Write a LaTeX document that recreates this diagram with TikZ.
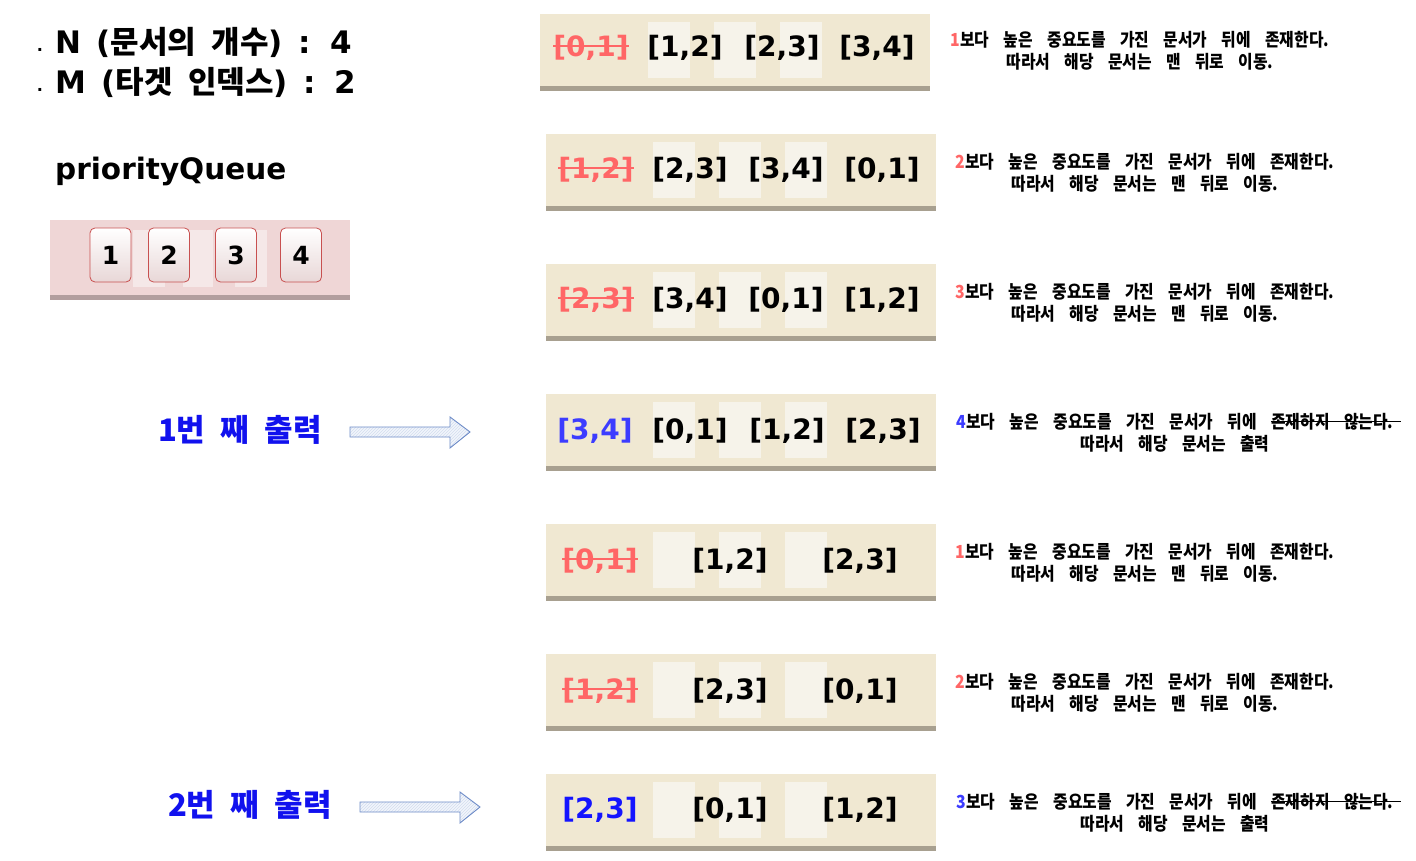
\documentclass[tikz,border=0pt]{standalone}
\usepackage{fontspec}
\setmainfont{DejaVu Sans}
\newfontfamily\kr{Noto Sans CJK KR}
\newfontfamily\krn{Noto Sans CJK KR}[FakeStretch=0.88]
\newfontfamily\lat{DejaVu Sans}
\usetikzlibrary{patterns}
\definecolor{beige}{RGB}{240,232,210}
\definecolor{innerc}{RGB}{246,243,234}
\definecolor{shadowc}{RGB}{168,160,144}
\definecolor{pinkc}{RGB}{239,214,214}
\definecolor{pinkin}{RGB}{245,232,232}
\definecolor{pinkshadow}{RGB}{178,158,158}
\definecolor{cardline}{RGB}{200,80,80}
\definecolor{cardbot}{RGB}{232,215,215}
\definecolor{redc}{RGB}{255,102,102}
\definecolor{bluelab}{RGB}{17,17,238}
\definecolor{bluea}{RGB}{60,60,255}
\definecolor{blueb}{RGB}{20,20,255}
\definecolor{arrline}{RGB}{110,140,200}
\definecolor{arrfill}{RGB}{242,245,252}
\newcommand\strk[2]{\setbox0\hbox{#2}\rlap{\color{#1}\raisebox{0.33em}{\rule{\wd0}{0.08em}}}\box0}
\newcommand\strkk[1]{\setbox0\hbox{#1}\rlap{\raisebox{0.36em}{\rule{\dimexpr\wd0+0.4em\relax}{0.07em}}}\box0}
\newcommand\rowbg[3]{\fill[beige] (#1,#3-36) rectangle (#2,#3+36);
  \fill[shadowc] (#1,#3+36) rectangle (#2,#3+41);}
\newcommand\innerbox[2]{\fill[innerc] (#1,#2-28) rectangle ++(42,56);}
\newcommand\fpair{\lat\bfseries\fontsize{28}{30}\selectfont}
\newcommand\fdesc{\krn\bfseries\fontsize{18}{22}\selectfont\spaceskip 0.8em\relax}
\newcommand\fbig{\lat\bfseries\fontsize{31}{34}\selectfont\spaceskip 0.5em\relax}
\newcommand\flab{\kr\bfseries\fontsize{31}{34}\selectfont\spaceskip 0.5em\relax}
\newcommand\fcard{\lat\bfseries\fontsize{25}{28}\selectfont}
\newcommand\fpq{\lat\bfseries\fontsize{29.5}{32}\selectfont}
\newcommand\fdot{\lat\bfseries\fontsize{16}{16}\selectfont}
\begin{document}
\begin{tikzpicture}[x=1pt,y=-1pt,
  pair/.style={font=\fpair, inner sep=0},
  desc/.style={font=\fdesc, align=center, inner sep=0},
  big/.style={font=\fbig, inner sep=0, anchor=base west},
  lab/.style={font=\flab, inner sep=0, text=bluelab},
  card/.style={draw=cardline, line width=0.8pt, rounded corners=5pt, top color=white, bottom color=cardbot,
     minimum width=41pt, minimum height=54pt, inner sep=0, font=\fcard},
  barrow/.style={draw=arrline, line width=0.9pt, preaction={fill=arrfill}, pattern=north east lines, pattern color=arrline!30},
]
\useasboundingbox (0,0) rectangle (1416,861);
\fill[white] (0,0) rectangle (1416,861);

% left info
\node[inner sep=0, font=\fdot] (dot1) at (40,50) {.};
\node[big] (nline) at (55,54) {N ({\kr 문서의 개수}) : 4};
\node[inner sep=0, font=\fdot] (dot2) at (40,90) {.};
\node[big] (mline) at (55,94) {M ({\kr 타겟 인덱스}) : 2};
\node[inner sep=0, anchor=base west, font=\fpq] (pq) at (55,180) {priorityQueue};

% priority queue box
\fill[pinkc] (50,220) rectangle (350,295);
\fill[pinkshadow] (50,295) rectangle (350,300);
\fill[pinkin] (133,230) rectangle (165,287);
\fill[pinkin] (183,230) rectangle (213,287);
\fill[pinkin] (235,230) rectangle (267,287);
\node[card] (q1) at (110.5,255) {1};
\node[card] (q2) at (169,255) {2};
\node[card] (q3) at (236,255) {3};
\node[card] (q4) at (301,255) {4};

% rows
\rowbg{540}{930}{50}
\innerbox{648}{50}\innerbox{714}{50}\innerbox{780}{50}
\foreach \c in {170,300,430,560,690,810}{
  \rowbg{546}{936}{\c}
  \innerbox{653}{\c}\innerbox{719}{\c}\innerbox{785}{\c}
}

% row 1
\node[pair, text=redc] (a1) at (591,48) {\strk{redc}{[0,1]}};
\node[pair] (a2) at (685,48) {[1,2]};
\node[pair] (a3) at (782,48) {[2,3]};
\node[pair] (a4) at (877,48) {[3,4]};
\node[desc] (d1) at (1140,51) {{\color{redc}1}보다 높은 중요도를 가진 문서가 뒤에 존재한다.\\따라서 해당 문서는 맨 뒤로 이동.};
% row 2
\node[pair, text=redc] (b1) at (596,170) {\strk{redc}{[1,2]}};
\node[pair] (b2) at (690,170) {[2,3]};
\node[pair] (b3) at (786,170) {[3,4]};
\node[pair] (b4) at (882,170) {[0,1]};
\node[desc] (d2) at (1145,173) {{\color{redc}2}보다 높은 중요도를 가진 문서가 뒤에 존재한다.\\따라서 해당 문서는 맨 뒤로 이동.};
% row 3
\node[pair, text=redc] (c1) at (596,300) {\strk{redc}{[2,3]}};
\node[pair] (c2) at (690,300) {[3,4]};
\node[pair] (c3) at (786,300) {[0,1]};
\node[pair] (c4) at (882,300) {[1,2]};
\node[desc] (d3) at (1145,303) {{\color{redc}3}보다 높은 중요도를 가진 문서가 뒤에 존재한다.\\따라서 해당 문서는 맨 뒤로 이동.};
% row 4
\node[pair, text=bluea] (e1) at (595,431) {[3,4]};
\node[pair] (e2) at (690,431) {[0,1]};
\node[pair] (e3) at (787,431) {[1,2]};
\node[pair] (e4) at (883,431) {[2,3]};
\node[desc] (d4) at (1175,433) {{\color{bluea}4}보다 높은 중요도를 가진 문서가 뒤에 \strkk{존재하지 않는다.}\\따라서 해당 문서는 출력};
% row 5
\node[pair, text=redc] (f1) at (600,561) {\strk{redc}{[0,1]}};
\node[pair] (f2) at (730,561) {[1,2]};
\node[pair] (f3) at (860,561) {[2,3]};
\node[desc] (d5) at (1145,563) {{\color{redc}1}보다 높은 중요도를 가진 문서가 뒤에 존재한다.\\따라서 해당 문서는 맨 뒤로 이동.};
% row 6
\node[pair, text=redc] (g1) at (600,691) {\strk{redc}{[1,2]}};
\node[pair] (g2) at (730,691) {[2,3]};
\node[pair] (g3) at (860,691) {[0,1]};
\node[desc] (d6) at (1145,693) {{\color{redc}2}보다 높은 중요도를 가진 문서가 뒤에 존재한다.\\따라서 해당 문서는 맨 뒤로 이동.};
% row 7
\node[pair, text=blueb] (h1) at (600,810) {[2,3]};
\node[pair] (h2) at (730,810) {[0,1]};
\node[pair] (h3) at (860,810) {[1,2]};
\node[desc] (d7) at (1175,813) {{\color{bluea}3}보다 높은 중요도를 가진 문서가 뒤에 \strkk{존재하지 않는다.}\\따라서 해당 문서는 출력};

% output labels and arrows
\node[lab] (o1) at (240,430) {1번 째 출력};
\node[lab] (o2) at (250,805) {2번 째 출력};
\coordinate (ar1) at (350,432);
\coordinate (ar2) at (360,807);
\draw[barrow] (ar1) ++(0,-5) -- ++(100,0) -- ++(0,-10) -- ++(20,15) -- ++(-20,16) -- ++(0,-11) -- ++(-100,0) -- cycle;
\draw[barrow] (ar2) ++(0,-5) -- ++(100,0) -- ++(0,-10) -- ++(20,15) -- ++(-20,16) -- ++(0,-11) -- ++(-100,0) -- cycle;
\end{tikzpicture}
\end{document}
